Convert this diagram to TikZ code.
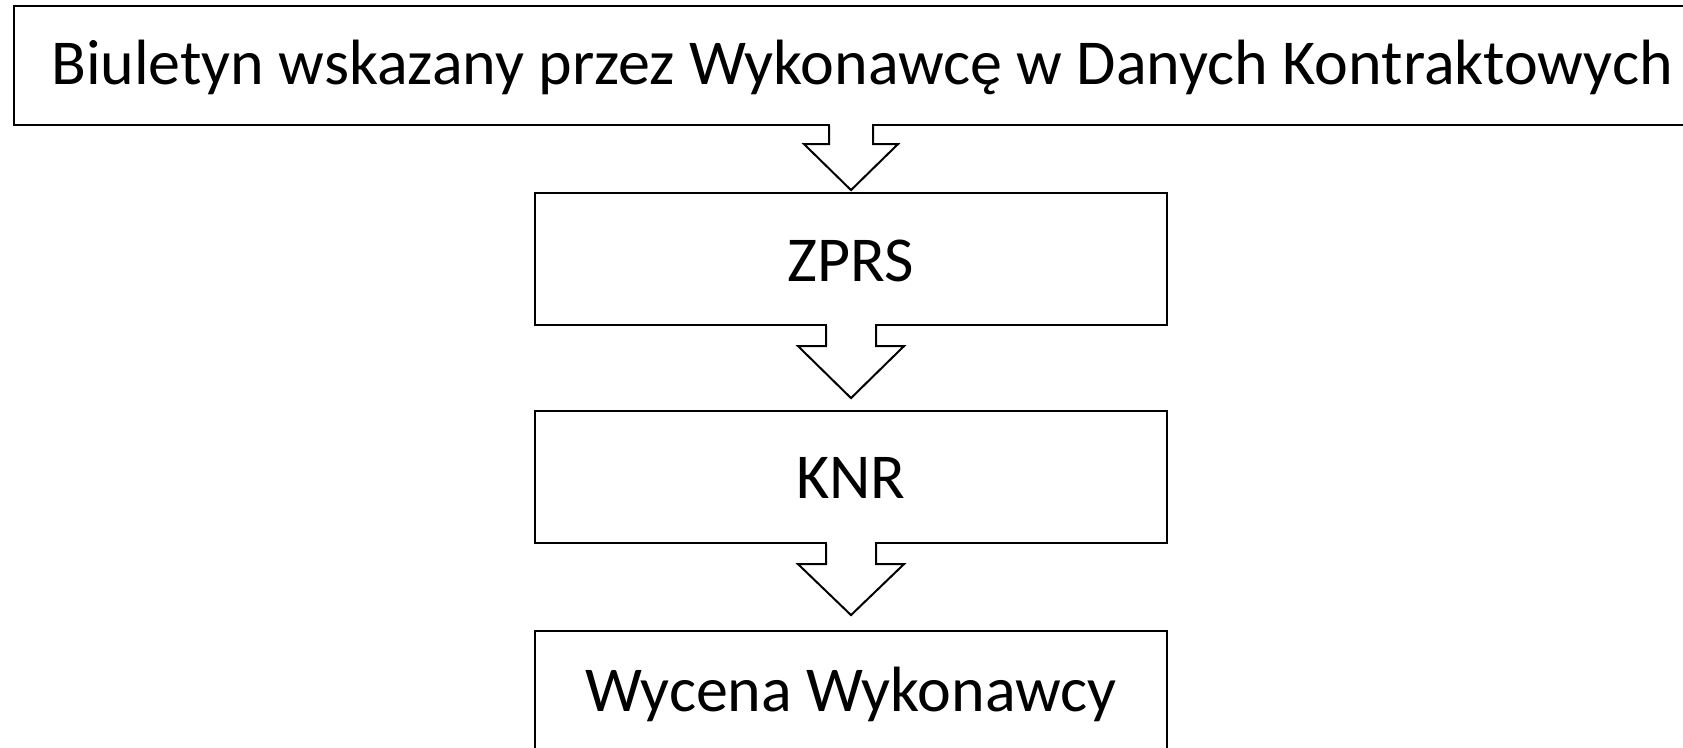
\documentclass[tikz,border=0pt]{standalone}
\usepackage{fontspec}
\setmainfont{Carlito}
\usetikzlibrary{calc}
\tikzset{
  box/.style={draw=black, line width=2.2bp, fill=white, inner sep=0pt, rectangle,
    font=\fontsize{64bp}{70bp}\selectfont, text depth=0pt},
  arrowline/.style={draw=black, line width=2bp, line join=miter},
}
\newcommand\flowarrow[6]{%
  \fill[white] ($(#2.north |- #1.south)+(-#3+1.1,1.6)$) rectangle ($(#2.north |- #1.south)+(#3-1.1,-#5)$);
  \draw[arrowline] ($(#2.north |- #1.south)+(-#3,0)$) -- ++(0,-#5) -- ++(-#4+#3,0)
     -- ($(#2.north |- #1.south)+(0,-#6)$) -- ($(#2.north |- #1.south)+(#4,-#5)$)
     -- ++(-#4+#3,0) -- ++(0,#5);
}
\begin{document}
\begin{tikzpicture}[x=1bp,y=1bp]
\path[use as bounding box, clip] (0,0) rectangle (1683,748);
\fill[white] (0,0) rectangle (1683,748);
\node[box, minimum width=1696bp, minimum height=119bp, text height=39bp] (top) at (862,682.5)
  {Biuletyn wskazany przez Wykonawcę w Danych Kontraktowych};
\node[box, minimum width=632bp, minimum height=132bp, text height=45bp] (zprs) at (851,489) {ZPRS};
\node[box, minimum width=632bp, minimum height=132bp, text height=44bp] (knr) at (851,271) {KNR};
\node[box, minimum width=632bp, minimum height=132bp, text height=30bp] (wyc) at (851,51) {Wycena Wykonawcy};
\flowarrow{top}{zprs}{22}{47}{18}{64}
\flowarrow{zprs}{knr}{25}{53}{20}{72}
\flowarrow{knr}{wyc}{25}{53}{20}{71}
\end{tikzpicture}
\end{document}
